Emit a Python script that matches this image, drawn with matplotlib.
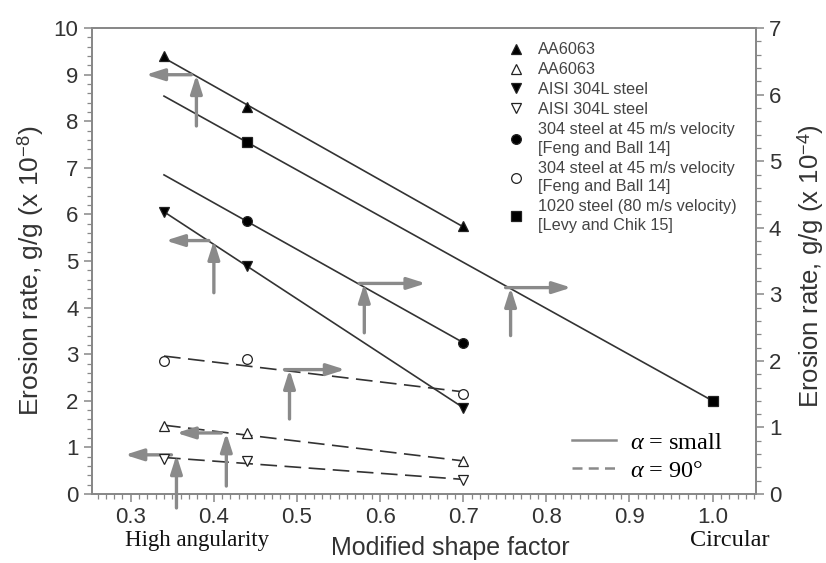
import numpy as np
import matplotlib
matplotlib.use("Agg")
import matplotlib.pyplot as plt
from matplotlib.lines import Line2D
from matplotlib.ticker import MultipleLocator

plt.rcParams['font.family'] = ['Liberation Sans', 'DejaVu Sans']
plt.rcParams['mathtext.fontset'] = 'custom'
plt.rcParams['mathtext.rm'] = 'Liberation Sans'
plt.rcParams['mathtext.it'] = 'Liberation Serif:italic'

# ---- data (left-axis units) ----
aa_solid_x = [0.34, 0.44, 0.70]
aa_solid_y = [9.4, 8.3, 5.75]
aa_open_x = [0.34, 0.44, 0.70]
aa_open_y = [1.45, 1.3, 0.7]
ss_solid_x = [0.34, 0.44, 0.70]
ss_solid_y = [6.05, 4.9, 1.85]
ss_open_x = [0.34, 0.44, 0.70]
ss_open_y = [0.75, 0.7, 0.3]
fb_solid_x = [0.44, 0.70]
fb_solid_y = [5.85, 3.25]
fb_open_x = [0.34, 0.44, 0.70]
fb_open_y = [2.85, 2.9, 2.15]
lc_x = [0.44, 1.0]
lc_y = [7.55, 2.0]

fit_start = 0.34

labels = ["AA6063", "AA6063", "AISI 304L steel", "AISI 304L steel",
          "304 steel at 45 m/s velocity\n[Feng and Ball 14]",
          "304 steel at 45 m/s velocity\n[Feng and Ball 14]",
          "1020 steel (80 m/s velocity)\n[Levy and Chik 15]"]

# arrows: (x, y_bottom, y_top, x_tip)
arrows = [
    (0.379, 7.9, 9.0, 0.318),
    (0.400, 4.32, 5.44, 0.342),
    (0.581, 3.46, 4.52, 0.655),
    (0.757, 3.40, 4.43, 0.830),
    (0.491, 1.61, 2.67, 0.558),
    (0.415, 0.17, 1.31, 0.355),
    (0.355, -0.30, 0.84, 0.293),
]

fig = plt.figure(figsize=(8.26, 5.63), dpi=100)
ax = fig.add_axes([0.111, 0.1226, 0.804, 0.8274])
ax.set_xlim(0.253, 1.052)
ax.set_ylim(0, 10)

line_c = '#333333'
arrow_c = '#8a8a8a'

series = [
    (aa_solid_x, aa_solid_y, '^', 'k', '-'),
    (aa_open_x, aa_open_y, '^', 'white', '--'),
    (ss_solid_x, ss_solid_y, 'v', 'k', '-'),
    (ss_open_x, ss_open_y, 'v', 'white', '--'),
    (fb_solid_x, fb_solid_y, 'o', 'k', '-'),
    (fb_open_x, fb_open_y, 'o', 'white', '--'),
    (lc_x, lc_y, 's', 'k', '-'),
]

handles = []
for (xs, ys, m, fc, ls), lab in zip(series, labels):
    xs = np.asarray(xs); ys = np.asarray(ys)
    p = np.polyfit(xs, ys, 1)
    xx = np.array([fit_start, xs.max()])
    ax.plot(xx, np.polyval(p, xx), color=line_c, lw=1.2, ls=ls,
            dashes=(10, 4.5) if ls == '--' else (None, None), zorder=2)
    ax.plot(xs, ys, ls='none', marker=m, ms=7, mfc=fc, mec='#222222',
            mew=0.9, zorder=4, clip_on=False)
    handles.append(Line2D([], [], ls='none', marker=m, ms=7, mfc=fc,
                          mec='#222222', mew=0.9, label=lab))

for (x, yb, yt, xt) in arrows:
    ax.annotate('', xy=(x, yt), xytext=(x, yb),
                arrowprops=dict(arrowstyle='-|>,head_length=1.1,head_width=0.35',
                                color=arrow_c, lw=2.4, shrinkA=0, shrinkB=0),
                annotation_clip=False, zorder=3)
    ax.annotate('', xy=(xt, yt), xytext=(x - 0.006, yt),
                arrowprops=dict(arrowstyle='-|>,head_length=1.1,head_width=0.35',
                                color=arrow_c, lw=2.4, shrinkA=0, shrinkB=0),
                annotation_clip=False, zorder=3)

leg1 = ax.legend(handles=handles, loc='upper left',
                 bbox_to_anchor=(0.607, 0.994), frameon=False,
                 fontsize=11.7, handlelength=1.2, handletextpad=0.75,
                 labelspacing=0.3, borderpad=0.2)
for t in leg1.get_texts():
    t.set_color('#444444')
    t.set_linespacing(1.32)
ax.add_artist(leg1)

h2 = [Line2D([], [], color='#8a8a8a', lw=1.8, ls='-'),
      Line2D([], [], color='#8a8a8a', lw=1.8, ls='--', dashes=(4, 2.5))]
leg2 = ax.legend(h2, [r'$\alpha$ = small', r'$\alpha$ = 90°'],
                 loc='center left', bbox_to_anchor=(0.69, 0.08),
                 frameon=False, handlelength=1.8, handletextpad=0.6,
                 labelspacing=0.25,
                 prop={'family': 'Liberation Serif', 'size': 17.5})

# axes styling
spine_c = '#888888'
for s in ax.spines.values():
    s.set_color(spine_c)
    s.set_linewidth(1.3)
ax.xaxis.set_major_locator(MultipleLocator(0.1))
ax.xaxis.set_minor_locator(MultipleLocator(0.01))
ax.yaxis.set_major_locator(MultipleLocator(1))
ax.yaxis.set_minor_locator(MultipleLocator(0.2))
ax.tick_params(which='major', length=6, width=1.1, color=spine_c,
               labelsize=16, labelcolor='#333333')
ax.tick_params(which='minor', length=3.5, width=0.9, color=spine_c)
ax.set_xticks([0.3, 0.4, 0.5, 0.6, 0.7, 0.8, 0.9, 1.0])
ax.set_xticklabels(['0.3', '0.4', '0.5', '0.6', '0.7', '0.8', '0.9', '1.0'])
ax.set_ylabel(r'Erosion rate, g/g (x 10$^{-8}$)', fontsize=19,
              color='#333333')
ax.yaxis.set_label_coords(-0.069, 0.48)

ax2 = ax.twinx()
ax2.set_ylim(0, 7)
ax2.yaxis.set_major_locator(MultipleLocator(1))
ax2.yaxis.set_minor_locator(MultipleLocator(0.2))
for s in ax2.spines.values():
    s.set_color(spine_c)
    s.set_linewidth(1.3)
ax2.tick_params(which='major', length=6, width=1.1, color=spine_c,
                labelsize=16, labelcolor='#333333')
ax2.tick_params(which='minor', length=3.5, width=0.9, color=spine_c)
ax2.set_ylabel(r'Erosion rate, g/g (x 10$^{-4}$)', fontsize=18.5,
               color='#333333')
ax2.yaxis.set_label_coords(1.06, 0.49)

fig.text(0.545, 0.027, 'Modified shape factor', ha='center', va='center',
         fontsize=18, color='#333333')
fig.text(0.238, 0.04, 'High angularity', ha='center', va='center',
         fontsize=16.5, family='Liberation Serif', color='#111111')
fig.text(0.884, 0.04, 'Circular', ha='center', va='center',
         fontsize=17.5, family='Liberation Serif', color='#111111')

fig.savefig('out.png', dpi=100)
